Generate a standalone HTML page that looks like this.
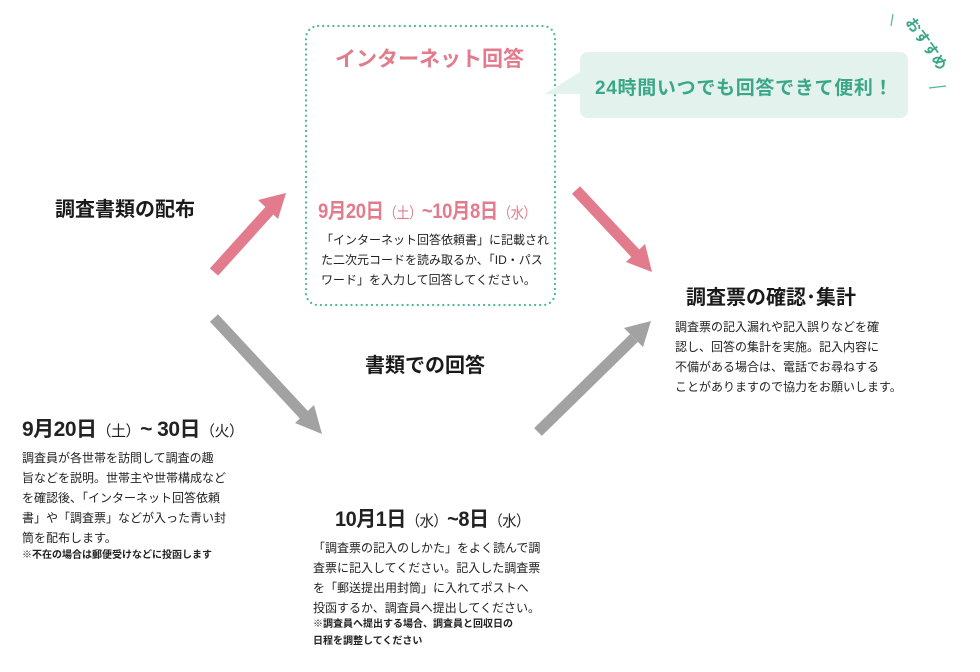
<!DOCTYPE html>
<html><head><meta charset="utf-8"><style>
body{margin:0;width:980px;height:672px;background:#fff;position:relative;overflow:hidden;font-family:"Liberation Sans","Noto Sans CJK JP",sans-serif;color:#222}
.a{position:absolute;white-space:nowrap}
.h{font-size:20px;font-weight:bold;color:#1a1a1a}
.p{font-size:12px;line-height:20px;color:#222}
.n{font-size:10px;line-height:17px;font-weight:bold}
.d{font-size:21px;font-weight:bold;letter-spacing:-0.5px;transform-origin:0 0}
.d small{font-size:15px;font-weight:normal}
</style></head><body>
<svg class="a" style="left:0;top:0" width="980" height="672">
<rect x="306" y="26" width="249" height="279" rx="12" fill="none" stroke="#4fb89a" stroke-width="2.2" stroke-dasharray="0.1 5" stroke-linecap="round"/>
<path d="M588,52 H900 a8,8 0 0 1 8,8 V110 a8,8 0 0 1 -8,8 H588 a8,8 0 0 1 -8,-8 V94 L545,94 L580,72 V60 a8,8 0 0 1 8,-8Z" fill="#e3f2ec"/>
<g stroke-width="11" fill="none">
<line x1="214" y1="272" x2="270" y2="210" stroke="#e27b8c"/>
<line x1="576" y1="190" x2="636" y2="254" stroke="#e27b8c"/>
<line x1="214" y1="318" x2="305" y2="416" stroke="#a2a2a2"/>
<line x1="538" y1="432" x2="634" y2="338" stroke="#a2a2a2"/>
</g>
<polygon points="286,193 258,200 278,219" fill="#e27b8c"/>
<polygon points="652,272 645,244 626,262" fill="#e27b8c"/>
<polygon points="322,434 314,405 295,423" fill="#a2a2a2"/>
<polygon points="651,321 624,328 643,347" fill="#a2a2a2"/>
<line x1="893" y1="14" x2="891" y2="26" stroke="#4fb89a" stroke-width="1.2"/>
<line x1="929" y1="88" x2="946" y2="86" stroke="#4fb89a" stroke-width="1.2"/>
<text x="905" y="22" font-size="15" font-weight="bold" fill="#3aa888" transform="rotate(55 905 22)" font-family="Liberation Sans,Noto Sans CJK JP,sans-serif">おすすめ</text>
</svg>
<div class="a" style="left:335px;top:43px;font-size:21px;font-weight:bold;color:#e27b8c">インターネット回答</div>
<div class="a" style="left:595px;top:73px;font-size:19px;font-weight:bold;color:#3aa888;letter-spacing:0.7px">24時間いつでも回答できて便利！</div>
<div class="a h" style="left:55px;top:193px">調査書類の配布</div>
<div class="a d" style="left:318px;top:195px;color:#e27b8c;transform:scaleX(0.88)">9月20日<small>（土）</small>~10月8日<small>（水）</small></div>
<div class="a p" style="left:321px;top:230px">「インターネット回答依頼書」に記載され<br>た二次元コードを読み取るか、「ID・パス<br>ワード」を入力して回答してください。</div>
<div class="a h" style="left:686px;top:281px">調査票の確認･集計</div>
<div class="a p" style="left:675px;top:317px">調査票の記入漏れや記入誤りなどを確<br>認し、回答の集計を実施。記入内容に<br>不備がある場合は、電話でお尋ねする<br>ことがありますので協力をお願いします。</div>
<div class="a h" style="left:365px;top:349px">書類での回答</div>
<div class="a d" style="left:22px;top:413px">9月20日<small>（土）</small>~ 30日<small>（火）</small></div>
<div class="a p" style="left:22px;top:448px">調査員が各世帯を訪問して調査の趣<br>旨などを説明。世帯主や世帯構成など<br>を確認後、「インターネット回答依頼<br>書」や「調査票」などが入った青い封<br>筒を配布します。</div>
<div class="a n" style="left:22px;top:547px">※不在の場合は郵便受けなどに投函します</div>
<div class="a d" style="left:335px;top:503px;transform:scaleX(0.95)">10月1日<small>（水）</small>~8日<small>（水）</small></div>
<div class="a p" style="left:313px;top:538px">「調査票の記入のしかた」をよく読んで調<br>査票に記入してください。記入した調査票<br>を「郵送提出用封筒」に入れてポストへ<br>投函するか、調査員へ提出してください。</div>
<div class="a n" style="left:313px;top:616px">※調査員へ提出する場合、調査員と回収日の<br>日程を調整してください</div>
</body></html>
